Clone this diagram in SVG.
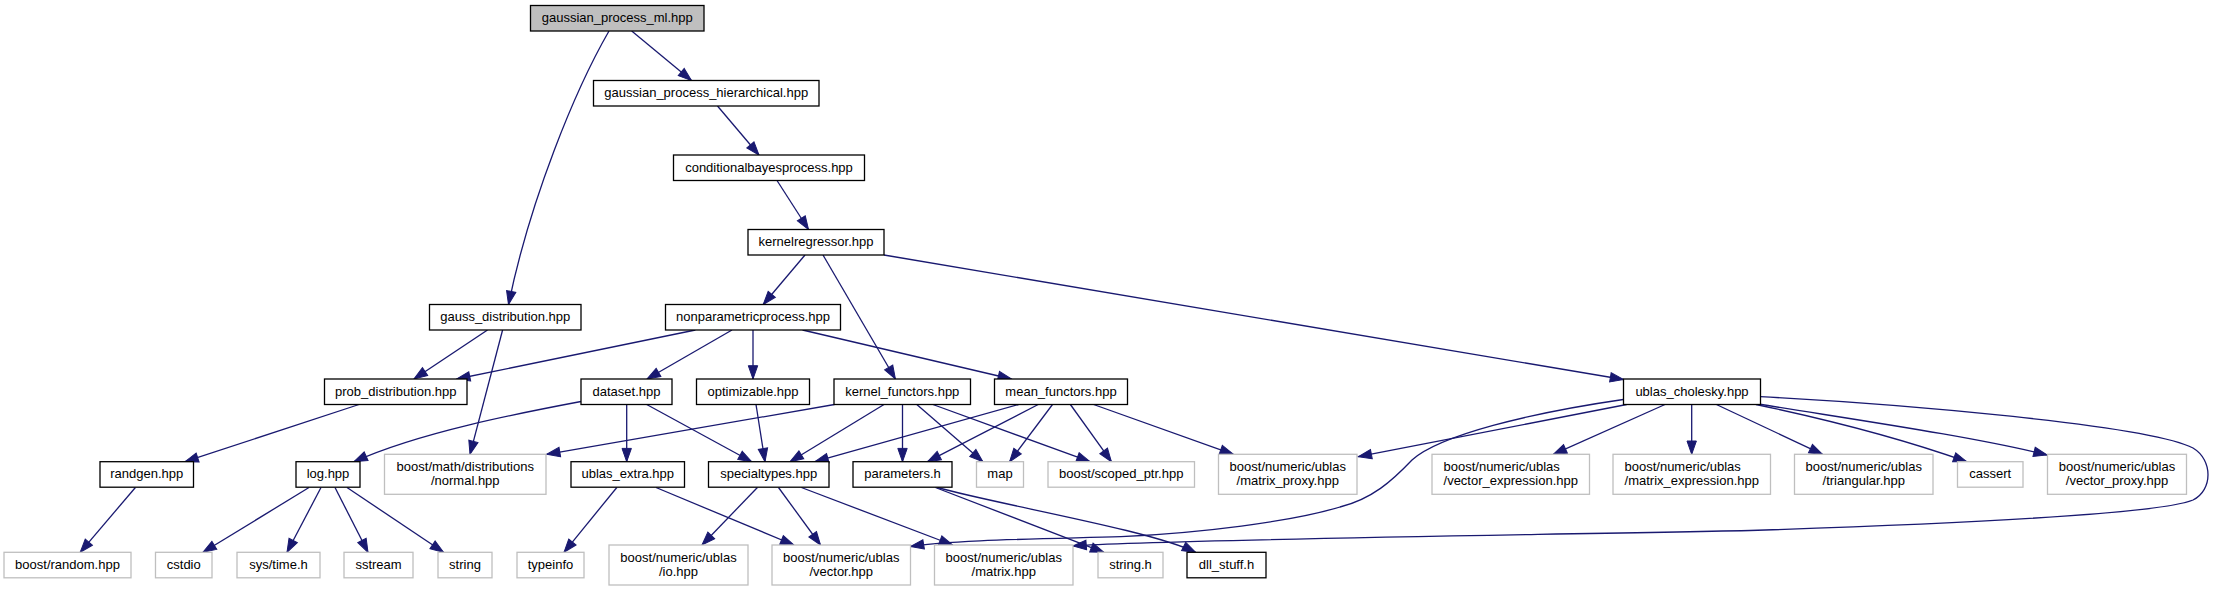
<svg xmlns="http://www.w3.org/2000/svg" width="2214" height="592" viewBox="0 0 2214 592">
<style>
.n rect{fill:#fff;stroke:#000;stroke-width:1.3}
.n.x rect{stroke:#bfbfbf}
.n.root rect{fill:#bfbfbf}
text{font-family:"Liberation Sans",Arial,Helvetica,sans-serif;font-size:13px;fill:#000;text-anchor:middle}
text.l{text-anchor:start}
#edges path{fill:none;stroke:#191970;stroke-width:1.3;marker-end:url(#a)}
</style>
<defs>
<marker id="a" markerUnits="userSpaceOnUse" markerWidth="15" markerHeight="11" refX="13.3" refY="4.7" orient="auto" overflow="visible">
<path d="M0,0 L13.3,4.7 L0,9.4 Z" fill="#191970" stroke="#191970" stroke-width="1"/>
</marker>
</defs>
<rect width="2214" height="592" fill="#fff"/>
<g id="edges">
<path d="M631.7,31 L691.5,80.5"/>
<path d="M609,31 C575,90 530,200 508.5,304.5"/>
<path d="M717.5,106 L759,155"/>
<path d="M777,180.5 L808.5,229.5"/>
<path d="M805,255 L763.2,304.5"/>
<path d="M823,255 L895.4,379"/>
<path d="M884,255 L1623.5,379.5"/>
<path d="M487.5,330 L414,379"/>
<path d="M502.6,330 L470,454.3"/>
<path d="M695.4,330 L456.7,379"/>
<path d="M732,330 L647,379"/>
<path d="M753,330 L753,379"/>
<path d="M802.5,330 L1011.4,379"/>
<path d="M359,404.5 L185,461.7"/>
<path d="M581,401.5 C520,413 420,432 354,461.7"/>
<path d="M626.7,404.5 L626.7,461.7"/>
<path d="M646.7,404.5 L751.7,461.7"/>
<path d="M756,404.5 L765,461.7"/>
<path d="M834.5,404.5 L546.7,454.3"/>
<path d="M884,404.5 L790,461.7"/>
<path d="M902.5,404.5 L902.5,461.7"/>
<path d="M916.8,404.5 L982.9,461.7"/>
<path d="M932.9,404.5 L1090,461.7"/>
<path d="M1018.6,404.5 L815,461.7"/>
<path d="M1038.2,404.5 L927.5,461.7"/>
<path d="M1052.5,404.5 L1009.6,461.7"/>
<path d="M1070.4,404.5 L1111.4,461.7"/>
<path d="M1093.6,404.5 L1233.3,454.3"/>
<path d="M1626.7,404.5 L1358.3,456.7"/>
<path d="M1623.3,399.5 C1530,413 1440,435 1412,460 C1392,481 1372,499 1340,507 C1290,522 1200,533 1121,536.7 C1040,539 950,540 910.5,546.5"/>
<path d="M1665,404.5 L1553.3,454.3"/>
<path d="M1691.7,404.5 L1691.7,454.3"/>
<path d="M1716.4,404.5 L1822.5,454.3"/>
<path d="M1756,404.5 C1820,418 1900,438 1966.7,461.7"/>
<path d="M1758.5,404 C1850,419 1970,436 2047,455"/>
<path d="M1760.3,396.7 C1900,404 2150,425 2193,448 C2213,460 2213,490 2193,500 C2160,514 1950,524 1750,530.5 C1500,535.5 1150,540 1073,546"/>
<path d="M135.4,487.5 L80.2,552.3"/>
<path d="M309,487.5 L203,552.3"/>
<path d="M321,487.5 L287,552.3"/>
<path d="M335,487.5 L368,552.3"/>
<path d="M347,487.5 L443.6,552.3"/>
<path d="M616.8,487.5 L564,552.3"/>
<path d="M656,487.5 L793.8,545"/>
<path d="M757.4,487.5 L702,545"/>
<path d="M778.5,487.5 L820.5,545"/>
<path d="M801.4,487.5 L952.6,545"/>
<path d="M935.4,487.5 L1103.8,552.3"/>
<path d="M937.3,487.5 C1000,505 1150,530 1195.6,552.3"/>
</g>
<g id="node-gpml" class="n root"><rect x="530.5" y="5.5" width="173.5" height="25.5"/><text x="617.25" y="22.2">gaussian_process_ml.hpp</text></g>
<g id="node-hier" class="n"><rect x="593.5" y="80.5" width="225.5" height="25.5"/><text x="706.25" y="97.2">gaussian_process_hierarchical.hpp</text></g>
<g id="node-cond" class="n"><rect x="673.5" y="155" width="191" height="25.5"/><text x="769" y="171.7">conditionalbayesprocess.hpp</text></g>
<g id="node-kreg" class="n"><rect x="748" y="229.5" width="136" height="25.5"/><text x="816" y="246.2">kernelregressor.hpp</text></g>
<g id="node-gauss" class="n"><rect x="429.5" y="304.5" width="151.5" height="25.5"/><text x="505.25" y="321.2">gauss_distribution.hpp</text></g>
<g id="node-nonpar" class="n"><rect x="665.5" y="304.5" width="175" height="25.5"/><text x="753" y="321.2">nonparametricprocess.hpp</text></g>
<g id="node-prob" class="n"><rect x="324.5" y="379" width="142.5" height="25.5"/><text x="395.75" y="395.7">prob_distribution.hpp</text></g>
<g id="node-dataset" class="n"><rect x="581" y="379" width="91" height="25.5"/><text x="626.5" y="395.7">dataset.hpp</text></g>
<g id="node-optim" class="n"><rect x="696.5" y="379" width="113" height="25.5"/><text x="753" y="395.7">optimizable.hpp</text></g>
<g id="node-kfun" class="n"><rect x="834" y="379" width="136.5" height="25.5"/><text x="902.25" y="395.7">kernel_functors.hpp</text></g>
<g id="node-mfun" class="n"><rect x="994.5" y="379" width="133" height="25.5"/><text x="1061" y="395.7">mean_functors.hpp</text></g>
<g id="node-chol" class="n"><rect x="1623.5" y="379" width="137" height="25.5"/><text x="1692" y="395.7">ublas_cholesky.hpp</text></g>
<g id="node-randgen" class="n"><rect x="100" y="461.7" width="93.5" height="25.5"/><text x="146.75" y="478.4">randgen.hpp</text></g>
<g id="node-log" class="n"><rect x="296" y="461.7" width="64" height="25.5"/><text x="328" y="478.4">log.hpp</text></g>
<g id="node-normal" class="n x"><rect x="384.5" y="454.3" width="161.5" height="40"/><text x="465.25" y="471.3">boost/math/distributions</text><text x="465.25" y="485.3">/normal.hpp</text></g>
<g id="node-ublasextra" class="n"><rect x="571" y="461.7" width="113.5" height="25.5"/><text x="627.75" y="478.4">ublas_extra.hpp</text></g>
<g id="node-special" class="n"><rect x="708.5" y="461.7" width="120.5" height="25.5"/><text x="768.75" y="478.4">specialtypes.hpp</text></g>
<g id="node-params" class="n"><rect x="853" y="461.7" width="99" height="25.5"/><text x="902.5" y="478.4">parameters.h</text></g>
<g id="node-map" class="n x"><rect x="976.5" y="461.7" width="47" height="25.5"/><text x="1000" y="478.4">map</text></g>
<g id="node-scoped" class="n x"><rect x="1048" y="461.7" width="146.5" height="25.5"/><text x="1121.25" y="478.4">boost/scoped_ptr.hpp</text></g>
<g id="node-mproxy" class="n x"><rect x="1218.5" y="454.3" width="138.5" height="40"/><text x="1287.75" y="471.3">boost/numeric/ublas</text><text x="1287.75" y="485.3">/matrix_proxy.hpp</text></g>
<g id="node-vexpr" class="n x"><rect x="1432" y="454.3" width="157.5" height="40"/><text class="l" x="1443.5" y="471.3">boost/numeric/ublas</text><text x="1510.75" y="485.3">/vector_expression.hpp</text></g>
<g id="node-mexpr" class="n x"><rect x="1613" y="454.3" width="157.5" height="40"/><text class="l" x="1624.5" y="471.3">boost/numeric/ublas</text><text x="1691.75" y="485.3">/matrix_expression.hpp</text></g>
<g id="node-tri" class="n x"><rect x="1794.5" y="454.3" width="138.5" height="40"/><text x="1863.75" y="471.3">boost/numeric/ublas</text><text x="1863.75" y="485.3">/triangular.hpp</text></g>
<g id="node-cassert" class="n x"><rect x="1957.5" y="461.7" width="65.5" height="25.5"/><text x="1990.25" y="478.4">cassert</text></g>
<g id="node-vproxy" class="n x"><rect x="2047.5" y="454.3" width="139" height="40"/><text x="2117" y="471.3">boost/numeric/ublas</text><text x="2117" y="485.3">/vector_proxy.hpp</text></g>
<g id="node-brandom" class="n x"><rect x="4" y="552.3" width="127" height="25.5"/><text x="67.5" y="569">boost/random.hpp</text></g>
<g id="node-cstdio" class="n x"><rect x="155.5" y="552.3" width="56.5" height="25.5"/><text x="183.75" y="569">cstdio</text></g>
<g id="node-systime" class="n x"><rect x="237" y="552.3" width="83" height="25.5"/><text x="278.5" y="569">sys/time.h</text></g>
<g id="node-sstream" class="n x"><rect x="344" y="552.3" width="69" height="25.5"/><text x="378.5" y="569">sstream</text></g>
<g id="node-string" class="n x"><rect x="438" y="552.3" width="54" height="25.5"/><text x="465" y="569">string</text></g>
<g id="node-typeinfo" class="n x"><rect x="517" y="552.3" width="67" height="25.5"/><text x="550.5" y="569">typeinfo</text></g>
<g id="node-io" class="n x"><rect x="609" y="545" width="139" height="40"/><text x="678.5" y="562">boost/numeric/ublas</text><text x="678.5" y="576">/io.hpp</text></g>
<g id="node-vector" class="n x"><rect x="772" y="545" width="138.5" height="40"/><text x="841.25" y="562">boost/numeric/ublas</text><text x="841.25" y="576">/vector.hpp</text></g>
<g id="node-matrix" class="n x"><rect x="934.5" y="545" width="138.5" height="40"/><text x="1003.75" y="562">boost/numeric/ublas</text><text x="1003.75" y="576">/matrix.hpp</text></g>
<g id="node-stringh" class="n x"><rect x="1098" y="552.3" width="65" height="25.5"/><text x="1130.5" y="569">string.h</text></g>
<g id="node-dll" class="n"><rect x="1187" y="552.3" width="79" height="25.5"/><text x="1226.5" y="569">dll_stuff.h</text></g>
</svg>
